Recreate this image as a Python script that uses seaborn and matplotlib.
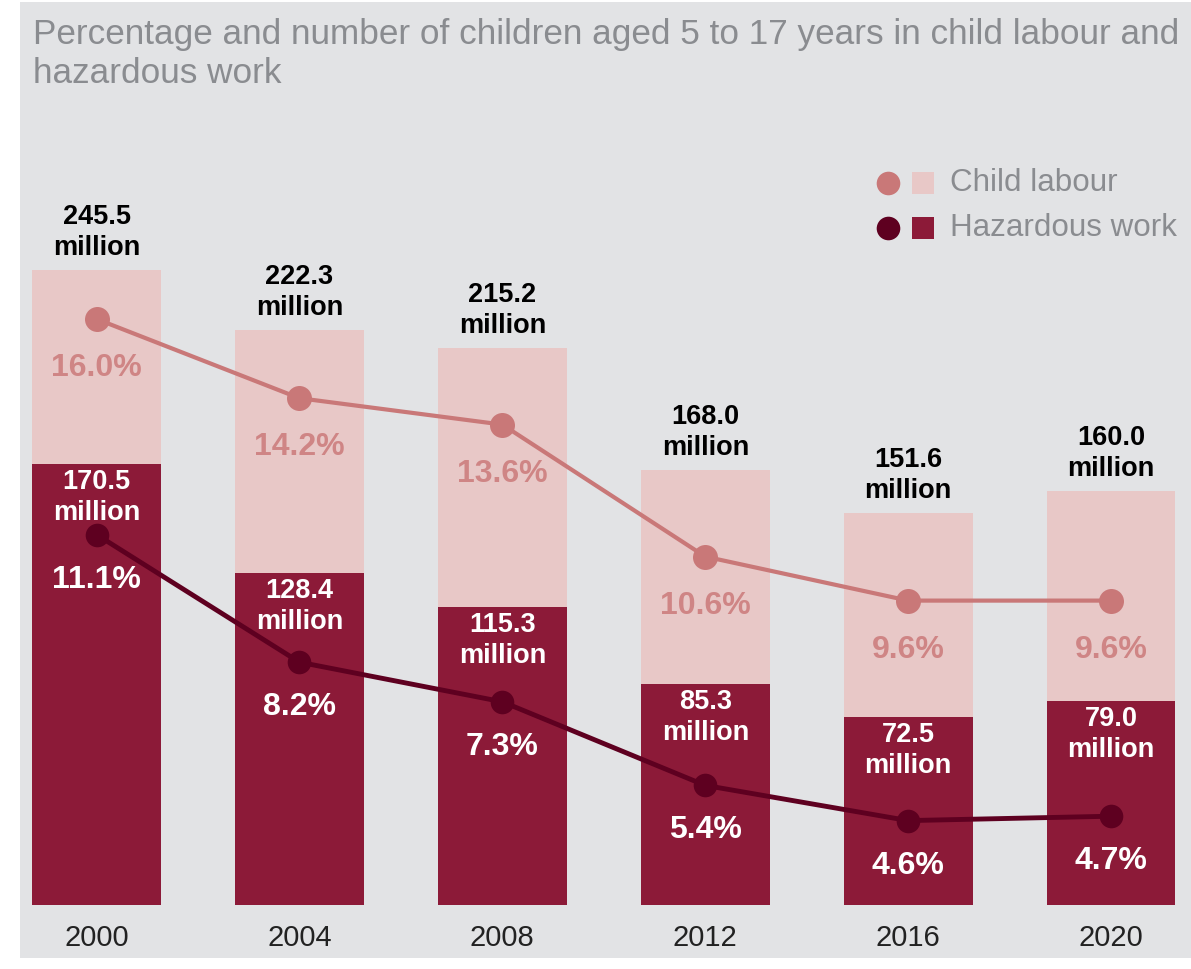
import numpy as np
import matplotlib
matplotlib.use("Agg")
import matplotlib.pyplot as plt
import seaborn as sns
from matplotlib.patches import Rectangle
from matplotlib.lines import Line2D

years = ["2000", "2004", "2008", "2012", "2016", "2020"]
child_labour_m = [245.5, 222.3, 215.2, 168.0, 151.6, 160.0]
hazardous_m = [170.5, 128.4, 115.3, 85.3, 72.5, 79.0]
child_labour_pct = [16.0, 14.2, 13.6, 10.6, 9.6, 9.6]
hazardous_pct = [11.1, 8.2, 7.3, 5.4, 4.6, 4.7]

LIGHT_BAR = "#e8c8c7"
DARK_BAR = "#8c1a38"
LIGHT_LINE = "#c97878"
DARK_LINE = "#5e0020"
LIGHT_TXT = "#cf8585"
GREY_TXT = "#8a8c90"
PANEL = "#e2e3e5"

plt.rcParams['font.family'] = ['Liberation Sans', 'DejaVu Sans']

W, H = 1191, 969
fig = plt.figure(figsize=(W / 100, H / 100), dpi=100)
fig.patch.set_facecolor("white")
fig.patches.append(Rectangle((20 / W, (H - 958) / H), 1 - 20 / W, 956 / H,
                             transform=fig.transFigure, facecolor=PANEL,
                             edgecolor="none", zorder=-10))

# axes geometry in pixels
bottom_px, top_px = 905, 150
px_per_m = 2.587
px_per_pct = 44.0
ref_pct, ref_px = 16.0, 319

ax = fig.add_axes([31.6 / W, (H - bottom_px) / H, (1176 - 31.6) / W, (bottom_px - top_px) / H])
ax.patch.set_alpha(0)

sns.barplot(x=years, y=child_labour_m, color=LIGHT_BAR, saturation=1, width=0.635, ax=ax)
sns.barplot(x=years, y=hazardous_m, color=DARK_BAR, saturation=1, width=0.635, ax=ax)
ax.set_xlim(-0.32, 5.32)
ax.set_ylim(0, (bottom_px - top_px) / px_per_m)

for i, (t, h) in enumerate(zip(child_labour_m, hazardous_m)):
    ax.annotate(f"{t:.1f}\nmillion", (i, t), xytext=(0, 9), textcoords="offset pixels",
                ha="center", va="bottom", fontsize=19.5, fontweight="bold",
                color="black", linespacing=1.25)
    ax.annotate(f"{h:.1f}\nmillion", (i, h), xytext=(0, -5), textcoords="offset pixels",
                ha="center", va="top", fontsize=19.5, fontweight="bold",
                color="white", linespacing=1.25)

ax2 = ax.twinx()
sns.lineplot(x=np.arange(len(years)), y=child_labour_pct, ax=ax2, color=LIGHT_LINE,
             linewidth=3, marker="o", markersize=18, markeredgewidth=0)
sns.lineplot(x=np.arange(len(years)), y=hazardous_pct, ax=ax2, color=DARK_LINE,
             linewidth=3.5, marker="o", markersize=17, markeredgewidth=0)
ax2.set_ylim(ref_pct - (bottom_px - ref_px) / px_per_pct, ref_pct + (ref_px - top_px) / px_per_pct)

for i, (c, h) in enumerate(zip(child_labour_pct, hazardous_pct)):
    ax2.annotate(f"{c:.1f}%", (i, c), xytext=(0, -49), textcoords="offset pixels",
                 ha="center", va="center", fontsize=23, fontweight="bold", color=LIGHT_TXT)
    ax2.annotate(f"{h:.1f}%", (i, h), xytext=(0, -45), textcoords="offset pixels",
                 ha="center", va="center", fontsize=23, fontweight="bold", color="white")

for a in (ax, ax2):
    for s in a.spines.values():
        s.set_visible(False)
    a.set_ylabel("")
    a.set_yticks([])
ax.set_xlabel("")
ax.tick_params(axis="x", length=0, pad=14, labelsize=21, labelcolor="#222222")

fig.text(33 / W, 1 - 18 / H,
         "Percentage and number of children aged 5 to 17 years in child labour and\nhazardous work",
         ha="left", va="top", fontsize=25.3, color=GREY_TXT, linespacing=1.22)

# legend
for yy, lc, bc, label in [(183, LIGHT_LINE, LIGHT_BAR, "Child labour"),
                          (228, DARK_LINE, DARK_BAR, "Hazardous work")]:
    fy = 1 - yy / H
    fig.add_artist(Line2D([888 / W], [fy], marker="o", markersize=17, color=lc,
                          markeredgewidth=0, transform=fig.transFigure))
    fig.add_artist(Line2D([923 / W], [fy], marker="s", markersize=16, color=bc,
                          markeredgewidth=0, transform=fig.transFigure))
    fig.text(950 / W, fy, label, ha="left", va="center", fontsize=22.6, color=GREY_TXT)

fig.savefig("out.png", dpi=100)
